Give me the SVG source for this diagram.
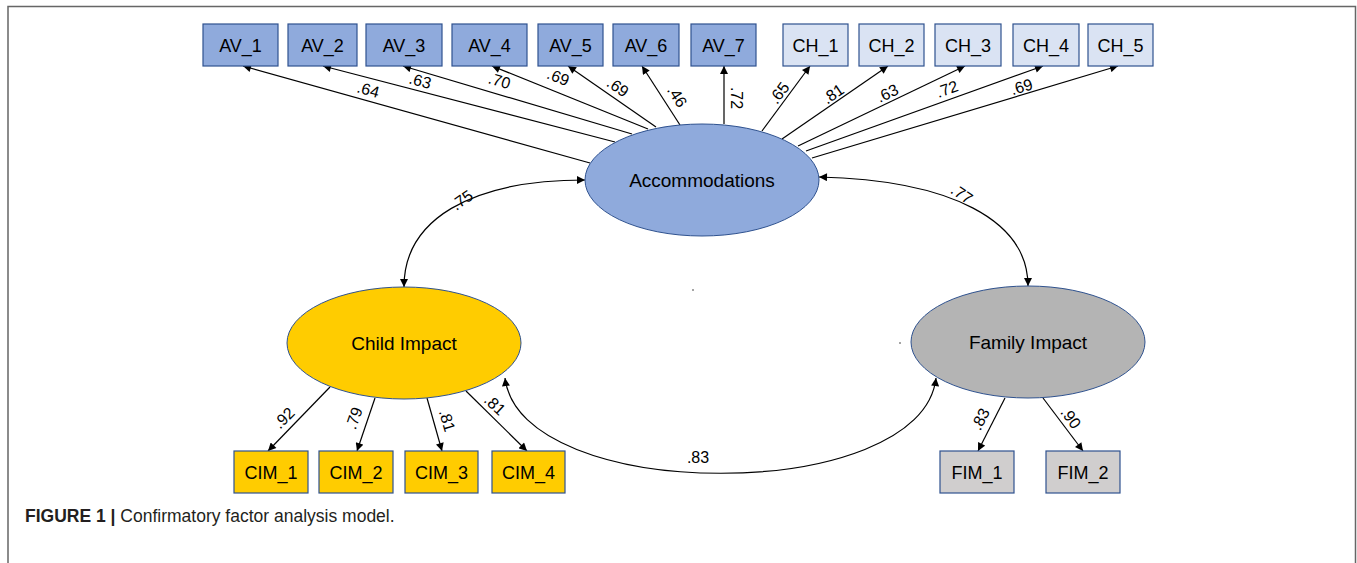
<svg xmlns="http://www.w3.org/2000/svg" width="1357" height="563" viewBox="0 0 1357 563">
<defs>
<marker id="ah" viewBox="0 0 10 10" refX="10" refY="5" markerWidth="9" markerHeight="8" markerUnits="userSpaceOnUse" orient="auto-start-reverse">
<path d="M0,0 L10,5 L0,10 z" fill="#000"/>
</marker>
<style>
.bx{stroke:#2f528f;stroke-width:1.2}
.av{fill:#8faadc}
.ch{fill:#dae3f3}
.ci{fill:#ffcc00}
.fi{fill:#d0cece}
.el{stroke:#2f528f;stroke-width:1}
.t{font-family:"Liberation Sans",Arial,sans-serif;font-size:18px;fill:#000;text-anchor:middle}
.et{font-family:"Liberation Sans",Arial,sans-serif;font-size:19px;fill:#000;text-anchor:middle}
.lb{font-family:"Liberation Sans",Arial,sans-serif;font-size:16px;fill:#000;text-anchor:middle}
.ln{stroke:#000;stroke-width:1.2;fill:none;marker-end:url(#ah)}
.cv{stroke:#000;stroke-width:1.2;fill:none;marker-start:url(#ah);marker-end:url(#ah)}
.fr{stroke:#666;stroke-width:1.5;fill:none}
</style>
</defs>
<rect width="1357" height="563" fill="#fff"/>
<path class="fr" d="M8,563 L8,6.5 L1355.5,6.5 L1355.5,563"/>

<g id="connectors">
<line class="ln" x1="590" y1="163" x2="243" y2="66"/>
<line class="ln" x1="615" y1="142" x2="323" y2="66"/>
<line class="ln" x1="632" y1="134" x2="403" y2="66"/>
<line class="ln" x1="648" y1="129" x2="492" y2="66"/>
<line class="ln" x1="656" y1="127" x2="568" y2="66"/>
<line class="ln" x1="680" y1="125" x2="642" y2="66"/>
<line class="ln" x1="724" y1="124" x2="724" y2="66"/>
<line class="ln" x1="762" y1="131" x2="810" y2="66"/>
<line class="ln" x1="782" y1="139" x2="888" y2="66"/>
<line class="ln" x1="798" y1="146" x2="965" y2="66"/>
<line class="ln" x1="806" y1="151" x2="1043" y2="66"/>
<line class="ln" x1="812" y1="158" x2="1118" y2="66"/>
<line class="ln" x1="330" y1="387" x2="268" y2="451"/>
<line class="ln" x1="375" y1="398" x2="357" y2="451"/>
<line class="ln" x1="427" y1="398" x2="442" y2="451"/>
<line class="ln" x1="466" y1="391" x2="527" y2="451"/>
<line class="ln" x1="1005" y1="398" x2="978" y2="451"/>
<line class="ln" x1="1043" y1="398" x2="1083" y2="451"/>
<path class="cv" d="M404,287 C404,220 470,180 585,180"/>
<path class="cv" d="M819,177 C950,180 1028,220 1028,286"/>
<path class="cv" d="M505,378 C520,505 922,505 936,378"/>
<g class="lb">
<text x="366" y="98" dy="-3" transform="rotate(15.6 366 98)">.64</text>
<text x="418" y="89" dy="-3" transform="rotate(14.6 418 89)">.63</text>
<text x="497" y="89" dy="-3" transform="rotate(16.5 497 89)">.70</text>
<text x="555" y="85" dy="-3" transform="rotate(22 555 85)">.69</text>
<text x="613" y="94" dy="-3" transform="rotate(35 613 94)">.69</text>
<text x="670" y="101" dy="-3" transform="rotate(57 670 101)">.46</text>
<text x="728" y="98" dy="-3" transform="rotate(90 728 98)">.72</text>
<text x="786" y="98" dy="-3" transform="rotate(-53.6 786 98)">.65</text>
<text x="838" y="101" dy="-3" transform="rotate(-34.6 838 101)">.81</text>
<text x="891" y="101" dy="-3" transform="rotate(-25.6 891 101)">.63</text>
<text x="950" y="97" dy="-3" transform="rotate(-19.7 950 97)">.72</text>
<text x="1024" y="95" dy="-3" transform="rotate(-16.7 1024 95)">.69</text>
<text x="467" y="207" dy="-3" transform="rotate(-35 467 207)">.75</text>
<text x="957" y="201" dy="-3" transform="rotate(35 957 201)">.77</text>
<text x="290" y="424" dy="-3" transform="rotate(-45 290 424)">.92</text>
<text x="362" y="421" dy="-3" transform="rotate(-71 362 421)">.79</text>
<text x="439" y="423" dy="-3" transform="rotate(73.6 439 423)">.81</text>
<text x="489" y="411" dy="-3" transform="rotate(43.6 489 411)">.81</text>
<text x="988" y="423" dy="-3" transform="rotate(-63 988 423)">.83</text>
<text x="1064" y="423" dy="-3" transform="rotate(53 1064 423)">.90</text>
<text x="698" y="464" dy="-1">.83</text>
</g>
</g>

<g id="AV_1"><rect class="bx av" x="203" y="24" width="75" height="42"/><text class="t" x="240.5" y="51.5">AV_1</text></g>
<g id="AV_2"><rect class="bx av" x="288" y="24" width="69" height="42"/><text class="t" x="322.5" y="51.5">AV_2</text></g>
<g id="AV_3"><rect class="bx av" x="366" y="24" width="76" height="42"/><text class="t" x="404" y="51.5">AV_3</text></g>
<g id="AV_4"><rect class="bx av" x="452" y="24" width="75" height="42"/><text class="t" x="489.5" y="51.5">AV_4</text></g>
<g id="AV_5"><rect class="bx av" x="538" y="24" width="65" height="42"/><text class="t" x="570.5" y="51.5">AV_5</text></g>
<g id="AV_6"><rect class="bx av" x="613" y="24" width="66" height="42"/><text class="t" x="646" y="51.5">AV_6</text></g>
<g id="AV_7"><rect class="bx av" x="691" y="24" width="65" height="42"/><text class="t" x="723.5" y="51.5">AV_7</text></g>
<g id="CH_1"><rect class="bx ch" x="783" y="24" width="65" height="42"/><text class="t" x="815.5" y="51.5">CH_1</text></g>
<g id="CH_2"><rect class="bx ch" x="859" y="24" width="65" height="42"/><text class="t" x="891.5" y="51.5">CH_2</text></g>
<g id="CH_3"><rect class="bx ch" x="935" y="24" width="66" height="42"/><text class="t" x="968" y="51.5">CH_3</text></g>
<g id="CH_4"><rect class="bx ch" x="1013" y="24" width="66" height="42"/><text class="t" x="1046" y="51.5">CH_4</text></g>
<g id="CH_5"><rect class="bx ch" x="1088" y="24" width="65" height="42"/><text class="t" x="1120.5" y="51.5">CH_5</text></g>

<g id="Accommodations"><ellipse class="el" cx="702" cy="180" rx="117" ry="56" fill="#8faadc"/><text class="et" x="702" y="187">Accommodations</text></g>
<g id="ChildImpact"><ellipse class="el" cx="404" cy="343" rx="117" ry="56" fill="#ffcc00"/><text class="et" x="404" y="350">Child Impact</text></g>
<g id="FamilyImpact"><ellipse class="el" cx="1028" cy="342" rx="117" ry="56" fill="#b4b4b4"/><text class="et" x="1028" y="349">Family Impact</text></g>

<g id="CIM_1"><rect class="bx ci" x="234" y="451" width="74" height="42"/><text class="t" x="271" y="478.5">CIM_1</text></g>
<g id="CIM_2"><rect class="bx ci" x="319" y="451" width="74" height="42"/><text class="t" x="356" y="478.5">CIM_2</text></g>
<g id="CIM_3"><rect class="bx ci" x="405" y="451" width="73" height="42"/><text class="t" x="441.5" y="478.5">CIM_3</text></g>
<g id="CIM_4"><rect class="bx ci" x="492" y="451" width="73" height="42"/><text class="t" x="528.5" y="478.5">CIM_4</text></g>
<g id="FIM_1"><rect class="bx fi" x="940" y="451" width="74" height="42"/><text class="t" x="977" y="478.5">FIM_1</text></g>
<g id="FIM_2"><rect class="bx fi" x="1046" y="451" width="74" height="42"/><text class="t" x="1083" y="478.5">FIM_2</text></g>

<circle cx="693" cy="290" r="0.8" fill="#333"/>
<circle cx="900" cy="343" r="0.8" fill="#333"/>

<text x="25" y="522" font-family="'Liberation Sans',Arial,sans-serif" font-size="17.5" fill="#231f20"><tspan font-weight="bold">FIGURE 1 |</tspan> Confirmatory factor analysis model.</text>
</svg>
